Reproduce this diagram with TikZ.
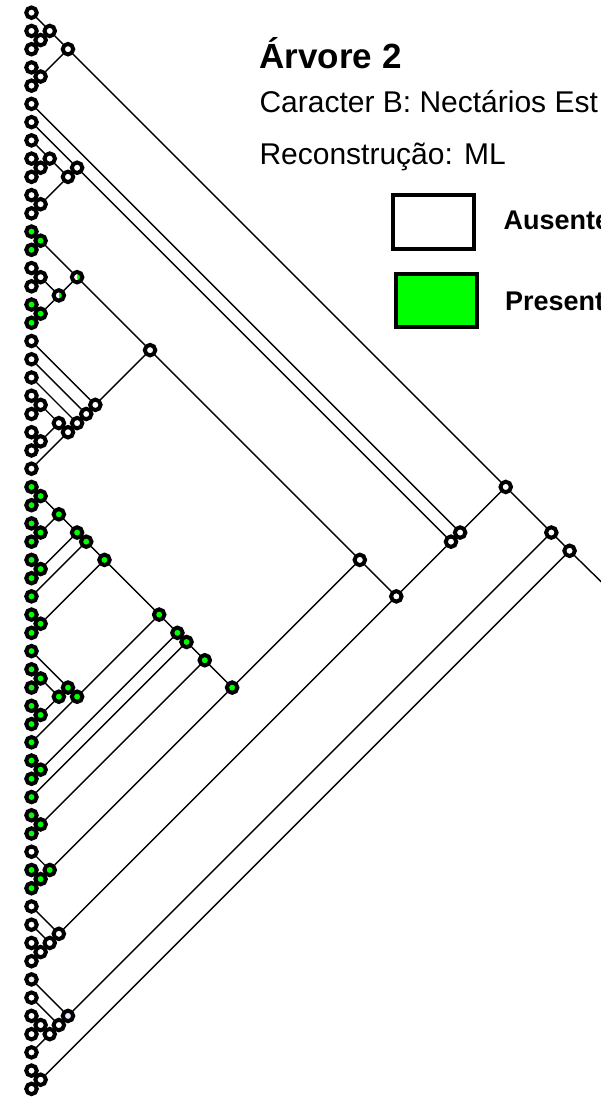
\documentclass[tikz,border=0pt]{standalone}
\usepackage{fontspec}
\setmainfont{Liberation Sans}
\usetikzlibrary{backgrounds}
\definecolor{presgreen}{RGB}{0,255,0}
\definecolor{ambig}{RGB}{230,234,248}
\tikzset{
  knot/.style={circle,draw=black,line width=4pt,minimum size=10.5pt,inner sep=0pt,fill=white},
  pres/.style={fill=presgreen},
  amb/.style={fill=ambig},
  mixed/.style={path picture={\fill[presgreen] (path picture bounding box.center)
      -- ++(-80:6pt) arc[start angle=-80,end angle=80,radius=6pt] -- cycle;}},
  branch/.style={line width=1.4pt},
  legendbox/.style={draw=black,line width=4pt,inner sep=0pt,minimum width=81pt,minimum height=54pt}
}
\newcommand{\tip}[2][]{\node[knot,#1] (t#2) at (31.5,{12.7+18.24*#2}) {};}
\newcommand{\clade}[3][]{\node[knot,#1] (n#2x#3) at ({31.5+9.12*(#3-#2)},{12.7+9.12*(#2+#3)}) {};}
\begin{document}
\begin{tikzpicture}[x=1pt,y=-1pt]
\useasboundingbox (0,0) rectangle (601,1098);

\node[anchor=base west] (title) at (256,68) {\fontsize{35}{42}\selectfont\bfseries Árvore 2};
\node[anchor=base west] (charline) at (256,112) {\fontsize{30}{36}\selectfont Caracter B: Nectários Est};
\node[anchor=base west] (recline) at (256,164) {\fontsize{30}{36}\selectfont Reconstrução: ML};

\node[legendbox,fill=white] (absbox) at (433.5,222) {};
\node[legendbox,fill=presgreen,minimum height=52.7pt] (presbox) at (436,300.7) {};
\node[anchor=base west] (abslabel) at (500,229.5) {\fontsize{27}{32}\selectfont\bfseries Ausente};
\node[anchor=base west] (preslabel) at (501.5,310) {\fontsize{27}{32}\selectfont\bfseries Present};

\foreach \i in {0,...,11,14,15} \tip{\i};
\foreach \i in {18,...,25,46,49,50,51,52,54,55,...,59} \tip{\i};
\foreach \i in {26,...,45,12,13,16,17,47,48} \tip[pres]{\i};
\tip[amb]{53}

\clade{1}{2} \clade{0}{2} \clade{3}{4} \clade{0}{4}
\clade{8}{9} \clade{7}{9} \clade{10}{11} \clade{7}{11} \clade{6}{11}
\clade[pres]{12}{13} \clade{14}{15} \clade[pres]{16}{17}
\clade[mixed]{14}{17} \clade[mixed]{12}{17}
\clade{21}{22} \clade{23}{24} \clade{21}{24} \clade{21}{25}
\clade{20}{25} \clade{19}{25} \clade{18}{25} \clade{12}{25}
\clade[pres]{26}{27} \clade[pres]{28}{29} \clade[pres]{26}{29}
\clade[pres]{30}{31} \clade[pres]{26}{31} \clade[pres]{26}{32}
\clade[pres]{33}{34} \clade[pres]{26}{34}
\clade[pres]{36}{37} \clade[pres]{38}{39} \clade[pres]{36}{39}
\clade[pres]{35}{39} \clade[pres]{35}{40} \clade[pres]{26}{40}
\clade[pres]{41}{42} \clade[pres]{26}{42} \clade[pres]{26}{43}
\clade[pres]{44}{45} \clade[pres]{26}{45}
\clade[pres]{47}{48} \clade[pres]{46}{48} \clade[pres]{26}{48}
\clade{12}{48}
\clade{51}{52} \clade{50}{52} \clade{49}{52}
\clade{12}{52} \clade{6}{52} \clade{5}{52} \clade{0}{52}
\clade{55}{56} \clade{55}{57} \clade{54}{57} \clade[amb]{53}{57}
\clade{0}{57} \clade{58}{59} \clade{0}{59}
\coordinate (stem) at (631,611);

\begin{scope}[on background layer]
\foreach \p/\c in {n0x59/n0x57, n0x59/n58x59, n0x57/n0x52, n0x57/n53x57,
    n0x52/n0x4, n0x52/n5x52, n0x4/n0x2, n0x4/n3x4, n0x2/t0, n0x2/n1x2,
    n1x2/t1, n1x2/t2, n3x4/t3, n3x4/t4,
    n5x52/t5, n5x52/n6x52, n6x52/n6x11, n6x52/n12x52, n6x11/t6, n6x11/n7x11,
    n7x11/n7x9, n7x11/n10x11, n7x9/t7, n7x9/n8x9, n8x9/t8, n8x9/t9,
    n10x11/t10, n10x11/t11,
    n12x52/n12x48, n12x52/n49x52, n12x48/n12x25, n12x48/n26x48,
    n12x25/n12x17, n12x25/n18x25, n12x17/n12x13, n12x17/n14x17,
    n12x13/t12, n12x13/t13, n14x17/n14x15, n14x17/n16x17,
    n14x15/t14, n14x15/t15, n16x17/t16, n16x17/t17,
    n18x25/t18, n18x25/n19x25, n19x25/t19, n19x25/n20x25, n20x25/t20, n20x25/n21x25,
    n21x25/n21x24, n21x25/t25, n21x24/n21x22, n21x24/n23x24,
    n21x22/t21, n21x22/t22, n23x24/t23, n23x24/t24,
    n26x48/n26x45, n26x48/n46x48, n26x45/n26x43, n26x45/n44x45,
    n26x43/n26x42, n26x43/t43, n26x42/n26x40, n26x42/n41x42,
    n26x40/n26x34, n26x40/n35x40, n26x34/n26x32, n26x34/n33x34,
    n26x32/n26x31, n26x32/t32, n26x31/n26x29, n26x31/n30x31,
    n26x29/n26x27, n26x29/n28x29, n26x27/t26, n26x27/t27, n28x29/t28, n28x29/t29,
    n30x31/t30, n30x31/t31, n33x34/t33, n33x34/t34,
    n35x40/n35x39, n35x40/t40, n35x39/t35, n35x39/n36x39,
    n36x39/n36x37, n36x39/n38x39, n36x37/t36, n36x37/t37, n38x39/t38, n38x39/t39,
    n41x42/t41, n41x42/t42, n44x45/t44, n44x45/t45,
    n46x48/t46, n46x48/n47x48, n47x48/t47, n47x48/t48,
    n49x52/t49, n49x52/n50x52, n50x52/t50, n50x52/n51x52, n51x52/t51, n51x52/t52,
    n53x57/t53, n53x57/n54x57, n54x57/t54, n54x57/n55x57,
    n55x57/n55x56, n55x57/t57, n55x56/t55, n55x56/t56,
    n58x59/t58, n58x59/t59, n0x59/stem}
  \draw[branch] (\p) -- (\c);
\end{scope}
\end{tikzpicture}
\end{document}
